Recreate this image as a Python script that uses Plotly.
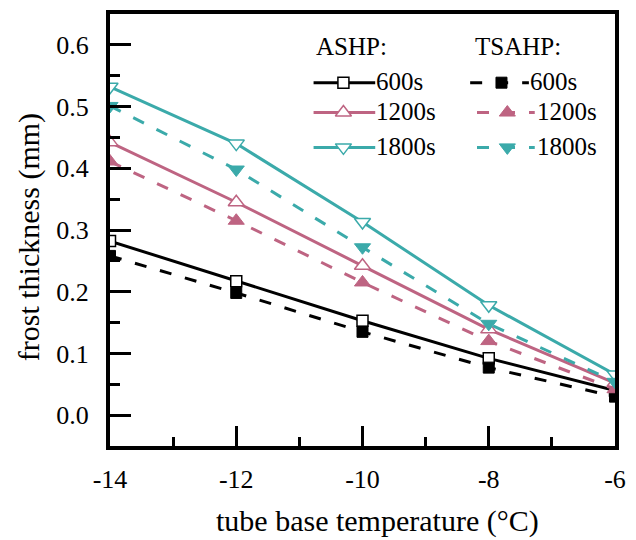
import plotly.graph_objects as go

# ---- data ----
temps = [-14, -12, -10, -8, -6]
ashp_600 = [0.282, 0.217, 0.153, 0.092, 0.040]
ashp_1200 = [0.442, 0.345, 0.242, 0.139, 0.052]
ashp_1800 = [0.532, 0.440, 0.313, 0.178, 0.066]
tsahp_600 = [0.258, 0.198, 0.135, 0.077, 0.030]
tsahp_1200 = [0.411, 0.315, 0.215, 0.120, 0.042]
tsahp_1800 = [0.501, 0.398, 0.272, 0.148, 0.054]
series_labels = ["600s", "1200s", "1800s"]
group_labels = ["ASHP:", "TSAHP:"]
x_ticks = [-14, -12, -10, -8, -6]
y_ticks = [0.0, 0.1, 0.2, 0.3, 0.4, 0.5, 0.6]
y_ticktext = ["0.0", "0.1", "0.2", "0.3", "0.4", "0.5", "0.6"]

BLACK = "#000000"
PINK = "#BE6482"
TEAL = "#3BAAAA"
FONT = "Liberation Serif"
DASH = "12px,14px"

W, H = 636, 540
ML, MR, MT, MB = 110, 10, 12, 94
PW, PH = W - ML - MR, H - MT - MB


def fx(px):
    return (px - ML) / PW


def fy(py):
    return (H - MB - py) / PH


fig = go.Figure()

ashp = [
    (ashp_600, BLACK, "square", 11),
    (ashp_1200, PINK, "triangle-up", 14),
    (ashp_1800, TEAL, "triangle-down", 14),
]
tsahp = [
    (tsahp_600, BLACK, "square", 11),
    (tsahp_1200, PINK, "triangle-up", 14),
    (tsahp_1800, TEAL, "triangle-down", 14),
]

for (vals, col, sym, sz), lab in zip(ashp, series_labels):
    fig.add_trace(go.Scatter(
        x=temps, y=vals, mode="lines+markers", name="ASHP " + lab,
        line=dict(color=col, width=3),
        marker=dict(symbol=sym, size=sz, color="white", line=dict(color=col, width=1.5)),
        showlegend=False))

for (vals, col, sym, sz), lab in zip(tsahp, series_labels):
    fig.add_trace(go.Scatter(
        x=temps, y=vals, mode="lines+markers", name="TSAHP " + lab,
        line=dict(color=col, width=3, dash=DASH),
        marker=dict(symbol=sym, size=sz, color=col, line=dict(color=col, width=1)),
        showlegend=False))

# ---- manual legend (overlay axes in plot-area fractions) ----
row_y = [81, 111, 146]
ashp_key = dict(x0=318, x1=381, xm=348.5, xt=380)
tsahp_keys = [dict(x0=478, x1=538, xm=510, xt=537),
              dict(x0=485, x1=544, xm=516, xt=544),
              dict(x0=485, x1=544, xm=516, xt=544)]

for i, ((vals, col, sym, sz), lab) in enumerate(zip(ashp, series_labels)):
    yy = fy(row_y[i])
    k = ashp_key
    fig.add_trace(go.Scatter(x=[fx(k["x0"]), fx(k["x1"])], y=[yy, yy], mode="lines",
                             line=dict(color=col, width=3), xaxis="x2", yaxis="y2",
                             showlegend=False, hoverinfo="skip"))
    fig.add_trace(go.Scatter(x=[fx(k["xm"])], y=[yy], mode="markers",
                             marker=dict(symbol=sym, size=sz, color="white",
                                         line=dict(color=col, width=1.5)),
                             xaxis="x2", yaxis="y2", showlegend=False, hoverinfo="skip"))
    fig.add_annotation(x=fx(k["xt"]), y=fy(row_y[i] - 1), xref="x2", yref="y2", text=lab,
                       showarrow=False, xanchor="left", yanchor="middle",
                       font=dict(family=FONT, size=25, color="black"))

for i, ((vals, col, sym, sz), lab) in enumerate(zip(tsahp, series_labels)):
    yy = fy(row_y[i])
    k = tsahp_keys[i]
    fig.add_trace(go.Scatter(x=[fx(k["x0"]), fx(k["x1"])], y=[yy, yy], mode="lines",
                             line=dict(color=col, width=3, dash=DASH), xaxis="x2", yaxis="y2",
                             showlegend=False, hoverinfo="skip"))
    fig.add_trace(go.Scatter(x=[fx(k["xm"])], y=[yy], mode="markers",
                             marker=dict(symbol=sym, size=sz, color=col,
                                         line=dict(color=col, width=1)),
                             xaxis="x2", yaxis="y2", showlegend=False, hoverinfo="skip"))
    fig.add_annotation(x=fx(k["xt"]), y=fy(row_y[i] - 1), xref="x2", yref="y2", text=lab,
                       showarrow=False, xanchor="left", yanchor="middle",
                       font=dict(family=FONT, size=25, color="black"))

for gx, glab in zip([318, 481], group_labels):
    fig.add_annotation(x=fx(gx), y=fy(45), xref="x2", yref="y2", text=glab,
                       showarrow=False, xanchor="left", yanchor="middle",
                       font=dict(family=FONT, size=25, color="black"))

# ---- axis titles ----
fig.add_annotation(x=fx(383.5), y=fy(521), xref="paper", yref="paper",
                   text="tube base temperature (°C)", showarrow=False,
                   xanchor="center", yanchor="middle",
                   font=dict(family=FONT, size=30, color="black"))
fig.add_annotation(x=fx(28), y=fy(236.5), xref="paper", yref="paper",
                   text="frost thickness (mm)", showarrow=False, textangle=-90,
                   xanchor="center", yanchor="middle",
                   font=dict(family=FONT, size=30, color="black"))

fig.update_layout(
    width=W, height=H,
    margin=dict(l=ML, r=MR, t=MT, b=MB),
    paper_bgcolor="white", plot_bgcolor="white",
    font=dict(family=FONT, size=26, color="black"),
    xaxis=dict(range=[-14, -6], tickvals=x_ticks, ticktext=[str(v) for v in x_ticks],
               ticks="inside", ticklen=20, tickwidth=3, tickcolor="black",
               minor=dict(dtick=1, tick0=-14, ticks="inside", ticklen=9, tickwidth=3,
                          tickcolor="black"),
               showline=True, linewidth=4, linecolor="black", mirror=True,
               showgrid=False, zeroline=False, ticklabelstandoff=7,
               tickfont=dict(family=FONT, size=26, color="black")),
    yaxis=dict(range=[-0.05, 0.65], tickvals=y_ticks, ticktext=y_ticktext,
               ticks="inside", ticklen=21, tickwidth=3, tickcolor="black",
               minor=dict(dtick=0.05, tick0=0, ticks="inside", ticklen=10, tickwidth=3,
                          tickcolor="black"),
               showline=True, linewidth=4, linecolor="black", mirror=True,
               showgrid=False, zeroline=False, ticklabelstandoff=12,
               tickfont=dict(family=FONT, size=26, color="black")),
    xaxis2=dict(overlaying="x", range=[0, 1], visible=False, fixedrange=True),
    yaxis2=dict(overlaying="y", range=[0, 1], visible=False, fixedrange=True),
)

fig.write_html("out.html")
